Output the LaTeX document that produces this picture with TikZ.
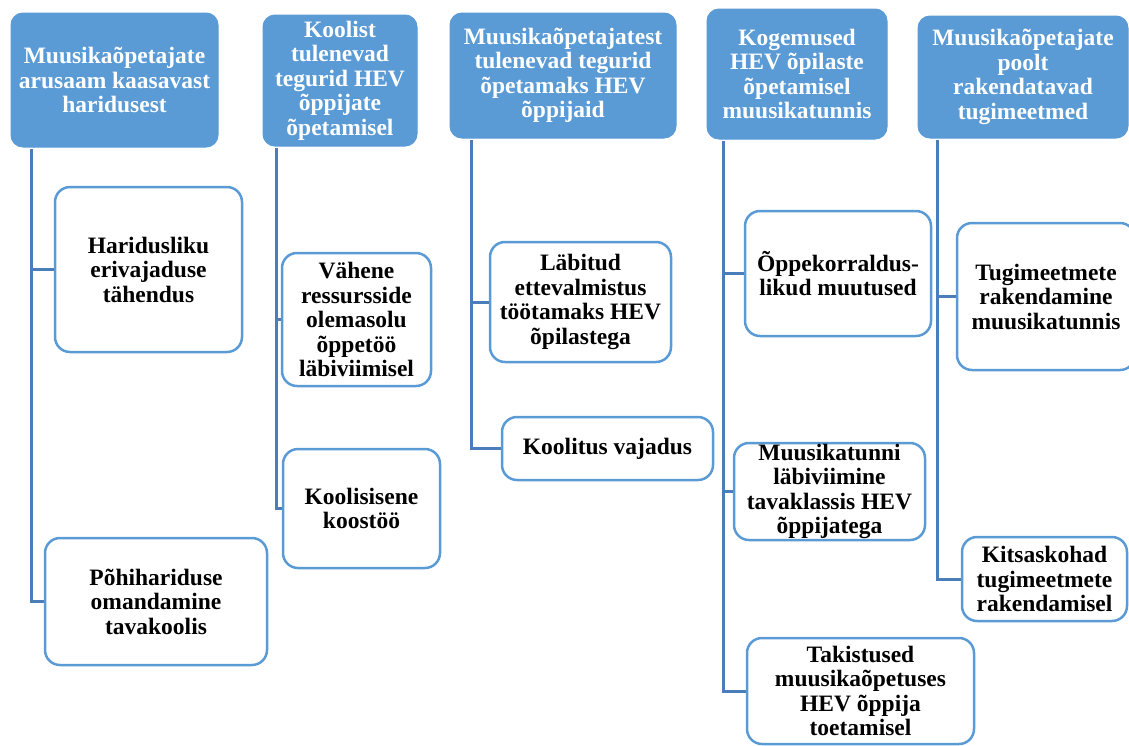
\documentclass[tikz,border=0pt]{standalone}
\usepackage{fontspec}
\setmainfont{Liberation Serif}
\definecolor{boxblue}{HTML}{5B9BD5}
\definecolor{lineblue}{HTML}{4A7EBB}

\begin{document}
\begin{tikzpicture}[
      headbox/.style={draw=boxblue, fill=boxblue, text=white, rounded corners=12pt,
        line width=1pt, inner sep=0pt, align=center,
        font=\fontsize{23.5}{24.5}\selectfont\bfseries},
      leafbox/.style={draw=boxblue, fill=white, rounded corners=15pt,
        line width=2.5pt, inner sep=0pt, align=center,
        font=\fontsize{23.5}{24.5}\selectfont\bfseries},
      conn/.style={draw=lineblue, line width=3pt},
      x=1pt,
      y=-1pt]
    \useasboundingbox (0,0) rectangle (1129,745);

    % headers
    \node[headbox, minimum width=207, minimum height=134] (h1) at (114.5, 80)
      {Muusikaõpetajate\\arusaam kaasavast\\haridusest};
    \node[headbox, minimum width=154, minimum height=131] (h2) at (340, 80.5)
      {Koolist\\tulenevad\\tegurid HEV\\õppijate\\õpetamisel};
    \node[headbox, minimum width=226, minimum height=125] (h3) at (563, 75.5)
      {Muusikaõpetajatest\\tulenevad tegurid\\õpetamaks HEV\\õppijaid};
    \node[headbox, minimum width=180, minimum height=130] (h4) at (797, 74)
      {Kogemused\\HEV õpilaste\\õpetamisel\\muusikatunnis};
    \node[headbox, minimum width=210, minimum height=122] (h5) at (1023, 77)
      {Muusikaõpetajate\\poolt\\rakendatavad\\tugimeetmed};

    % children
    \node[leafbox, minimum width=187, minimum height=165] (c1a) at (148.5, 269.5)
      {Haridusliku\\erivajaduse\\tähendus};
    \node[leafbox, minimum width=222, minimum height=127] (c1b) at (156, 601.5)
      {Põhihariduse\\omandamine\\tavakoolis};
    \node[leafbox, minimum width=149, minimum height=133] (c2a) at (356.5, 319.5)
      {Vähene\\ressursside\\olemasolu\\õppetöö\\läbiviimisel};
    \node[leafbox, minimum width=157, minimum height=119] (c2b) at (361.5, 508.5)
      {Koolisisene\\koostöö};
    \node[leafbox, minimum width=181, minimum height=120] (c3a) at (580.5, 302)
      {Läbitud\\ettevalmistus\\töötamaks HEV\\õpilastega};
    \node[leafbox, minimum width=211, minimum height=63] (c3b) at (607.5, 448.5)
      {Koolitus vajadus};
    \node[leafbox, minimum width=186, minimum height=125] (c4a) at (838, 273.5)
      {Õppekorraldus-\\likud muutused};
    \node[leafbox, minimum width=191, minimum height=97] (c4b) at (829.5, 491.5)
      {Muusikatunni\\läbiviimine\\tavaklassis HEV\\õppijatega};
    \node[leafbox, minimum width=227, minimum height=106] (c4c) at (860.5, 691)
      {Takistused\\muusikaõpetuses\\HEV õppija\\toetamisel};
    \node[leafbox, minimum width=178, minimum height=147] (c5a) at (1046, 296.5)
      {Tugimeetmete\\rakendamine\\muusikatunnis};
    \node[leafbox, minimum width=165, minimum height=84] (c5b) at (1044.5, 579)
      {Kitsaskohad\\tugimeetmete\\rakendamisel};

    % trunks
    \coordinate (t1) at (31, 149);
    \coordinate (t2) at (276, 148);
    \coordinate (t3) at (471, 140);
    \coordinate (t4) at (723, 141);
    \coordinate (t5) at (937, 140);

    \draw[conn] (t1) |- (c1a.west);
    \draw[conn] (t1) |- (c1b.west);
    \draw[conn] (t2) |- (c2a.west);
    \draw[conn] (t2) |- (c2b.west);
    \draw[conn] (t3) |- (c3a.west);
    \draw[conn] (t3) |- (c3b.west);
    \draw[conn] (t4) |- (c4a.west);
    \draw[conn] (t4) |- (c4b.west);
    \draw[conn] (t4) |- (c4c.west);
    \draw[conn] (t5) |- (c5a.west);
    \draw[conn] (t5) |- (c5b.west);

  \end{tikzpicture}
\end{document}
